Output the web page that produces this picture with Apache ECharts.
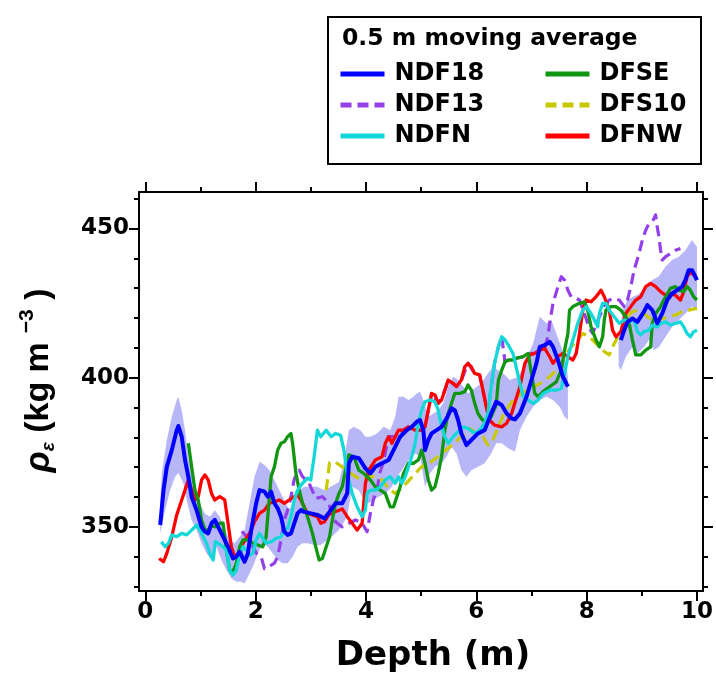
<!DOCTYPE html>
<html>
<head>
<meta charset="utf-8">
<script src="https://cdn.jsdelivr.net/npm/echarts@6/dist/echarts.min.js"></script>
<style>html,body{margin:0;padding:0;background:#fff;}#chart{width:716px;height:682px;}</style>
</head>
<body>
<div id="chart"></div>
<script>
// ---------------- data (depth in m, density in kg m^-3) ----------------
const xMajorTicks = [0, 2, 4, 6, 8, 10];
const xMinorTicks = [1, 3, 5, 7, 9];
const yMajorTicks = [350, 400, 450];
const yMinorTicks = [330, 340, 360, 370, 380, 390, 410, 420, 430, 440, 460];

const ndf18DepthA = [0.27,0.33,0.39,0.48,0.57,0.60,0.66,0.72,0.78,0.84,0.93,1.02,1.08,1.14,1.20,1.26,1.32,1.41,1.50,1.59,1.65,1.71,1.80,1.86,1.92,2.01,2.07,2.16,2.22,2.28,2.34,2.40,2.46,2.52,2.58,2.64,2.70,2.76,2.82,2.88,3.00,3.12,3.25,3.34,3.45,3.57,3.66,3.69,3.75,3.87,3.99,4.08,4.17,4.29,4.41,4.50,4.62,4.74,4.83,4.92,4.98,5.04,5.07,5.13,5.19,5.28,5.37,5.46,5.55,5.61,5.67,5.73,5.82,5.91,6.03,6.15,6.27,6.36,6.46,6.55,6.64,6.70,6.79,6.91,7.00,7.09,7.15,7.24,7.33,7.39,7.48,7.57,7.66];
const ndf18RhoA   = [350.6,362.3,370.1,375.7,382.4,383.8,380.2,372.4,366.8,360.1,355.6,350.0,348.4,347.8,351.2,352.3,350.0,346.7,343.3,339.4,340.0,341.7,338.3,341.1,348.9,357.9,362.3,361.8,360.1,361.8,357.9,356.2,353.4,348.4,347.3,347.8,351.2,354.5,355.6,355.0,354.5,354.0,352.8,355.0,357.9,357.9,361.2,371.3,373.5,373.0,369.6,367.9,370.1,371.3,372.4,375.7,380.2,382.4,383.5,385.2,385.8,382.4,375.7,379.1,381.3,382.4,383.5,386.3,389.7,389.1,385.8,381.3,377.4,379.1,381.3,382.4,388.0,391.9,390.8,388.0,386.3,386.0,388.0,393.6,399.2,404.8,410.3,410.9,412.0,410.3,405.9,400.3,397.0];
const ndf18DepthB = [8.62,8.68,8.74,8.83,8.92,9.04,9.10,9.19,9.28,9.37,9.46,9.55,9.64,9.73,9.79,9.85,9.91,9.97,10.0];
const ndf18RhoB   = [412.6,415.9,418.7,419.8,418.7,422.1,424.3,422.6,418.2,421.5,426.0,428.2,429.3,430.5,432.7,436.0,436.0,433.8,432.7];

const ndf13Depth = [1.75,1.82,1.90,2.02,2.10,2.16,2.25,2.34,2.40,2.46,2.52,2.58,2.64,2.70,2.79,2.85,2.97,3.09,3.21,3.33,3.39,3.48,3.57,3.69,3.81,3.93,4.02,4.08,4.14,4.20,4.25,4.32,4.41,4.53,4.68,4.77,4.89,5.01,5.07,5.13,5.19,5.31,5.43,5.49,5.64,5.73,5.85,5.97,6.06,6.12,6.21,6.27,6.33,6.40,6.46,6.52,6.58,6.67,6.73,6.85,6.94,7.06,7.15,7.24,7.30,7.33,7.39,7.48,7.54,7.60,7.66,7.72,7.81,7.87,7.99,8.05,8.11,8.23,8.32,8.41,8.50,8.59,8.68,8.74,8.80,8.86,8.95,9.01,9.07,9.13,9.20,9.25,9.28,9.31,9.34,9.37,9.43,9.52,9.61,9.70];
const ndf13Rho   = [348.5,347.0,345.0,341.0,340.0,336.0,336.8,337.8,340.0,345.6,352.3,355.6,360.0,366.0,369.0,366.8,364.6,359.5,360.1,357.9,352.8,351.2,350.0,351.2,352.3,351.2,348.4,354.5,359.5,362.3,368.0,372.0,380.2,380.2,382.4,383.5,382.4,382.4,383.5,389.1,394.7,391.4,395.8,399.2,397.0,399.2,404.8,401.4,400.9,395.8,388.0,396.9,404.8,410.3,413.7,405.3,405.9,405.9,406.5,407.0,408.1,408.1,409.2,409.8,414.0,418.2,424.9,430.5,433.8,432.7,429.3,427.1,426.5,426.0,419.8,416.5,414.8,420.4,424.0,426.0,426.5,426.0,423.8,426.0,430.5,436.0,441.6,446.1,449.4,451.7,452.5,454.5,450.5,447.2,442.7,439.4,440.5,441.6,442.7,443.3];

const ndfnDepth = [0.29,0.36,0.42,0.48,0.57,0.66,0.75,0.84,0.93,0.99,1.05,1.11,1.17,1.23,1.27,1.32,1.41,1.47,1.53,1.59,1.65,1.71,1.77,1.83,1.89,1.95,2.01,2.07,2.13,2.19,2.28,2.37,2.46,2.52,2.58,2.64,2.70,2.76,2.85,2.94,3.00,3.06,3.12,3.18,3.28,3.37,3.45,3.54,3.60,3.66,3.75,3.84,3.93,3.99,4.02,4.08,4.17,4.26,4.35,4.44,4.53,4.59,4.65,4.71,4.77,4.83,4.89,4.95,5.01,5.07,5.16,5.25,5.31,5.37,5.43,5.49,5.58,5.67,5.76,5.85,5.97,6.06,6.15,6.21,6.27,6.33,6.40,6.46,6.52,6.58,6.665,6.79,6.85,6.94,7.03,7.12,7.21,7.33,7.45,7.54,7.60,7.66,7.75,7.84,7.93,7.99,8.08,8.14,8.20,8.23,8.29,8.35,8.41,8.50,8.59,8.68,8.77,8.86,8.92,8.98,9.04,9.13,9.19,9.28,9.34,9.43,9.52,9.61,9.70,9.76,9.82,9.88,9.94,10.0];
const ndfnRho   = [345.0,343.3,344.5,347.3,346.7,347.8,347.3,348.9,350.6,348.9,346.7,344.5,341.1,338.9,345.0,344.5,343.3,342.2,335.5,333.8,335.5,340.6,343.3,342.2,340.6,341.1,345.6,347.8,346.1,344.5,345.0,346.1,346.7,348.9,349.5,353.4,359.0,362.3,364.6,366.3,365.7,373.5,382.4,380.2,382.4,380.2,381.3,380.7,375.7,367.9,361.2,356.7,353.4,355.6,361.2,362.3,362.3,363.4,365.7,366.8,364.6,366.8,364.6,366.8,370.1,373.5,378.0,384.7,389.1,391.9,392.5,391.9,389.1,383.5,380.2,378.0,380.2,381.9,383.5,383.0,381.3,382.4,384.7,388.0,396.9,404.8,410.3,413.7,412.6,410.9,408.1,398.1,393.6,392.5,391.4,392.5,394.7,395.8,395.8,396.4,401.4,407.0,412.6,418.2,422.6,423.8,421.5,419.3,417.0,421.5,424.9,424.9,422.6,420.4,418.2,419.3,418.7,419.3,415.4,414.3,415.4,415.9,417.6,417.0,418.2,418.7,417.6,418.2,418.7,417.0,414.8,413.7,415.4,415.9];

const dfseDepth = [0.78,0.84,0.90,0.96,1.02,1.08,1.14,1.20,1.26,1.35,1.41,1.47,1.53,1.59,1.65,1.71,1.77,1.86,1.95,2.04,2.13,2.19,2.24,2.28,2.34,2.40,2.46,2.52,2.58,2.64,2.67,2.73,2.79,2.85,2.94,3.03,3.09,3.15,3.21,3.28,3.34,3.39,3.45,3.51,3.57,3.63,3.69,3.78,3.87,3.96,4.08,4.17,4.26,4.35,4.44,4.50,4.56,4.62,4.68,4.77,4.86,4.95,5.01,5.07,5.13,5.19,5.25,5.31,5.37,5.43,5.49,5.55,5.61,5.70,5.79,5.85,5.91,5.97,6.03,6.09,6.18,6.27,6.36,6.40,6.46,6.52,6.58,6.67,6.73,6.85,6.94,7.00,7.06,7.12,7.21,7.33,7.45,7.54,7.60,7.66,7.69,7.75,7.87,7.96,8.02,8.08,8.17,8.23,8.29,8.32,8.35,8.44,8.53,8.62,8.71,8.77,8.83,8.89,8.98,9.07,9.16,9.19,9.25,9.34,9.43,9.52,9.61,9.67,9.76,9.82,9.88,9.94,10.0];
const dfseRho   = [378.0,370.1,362.3,359.0,352.3,349.0,349.0,350.6,350.0,351.2,351.2,342.2,335.5,335.0,337.8,343.3,345.6,345.6,344.5,343.9,343.3,346.7,357.9,366.8,370.1,375.7,378.0,378.5,380.2,381.3,378.0,368.0,362.3,357.9,353.4,347.8,343.3,338.9,339.4,343.3,346.7,352.3,357.9,361.2,363.4,369.0,374.1,373.5,369.0,367.9,365.7,363.4,362.3,361.2,356.7,356.7,360.1,363.4,367.9,371.3,371.3,372.4,375.7,371.3,365.7,362.3,363.4,367.9,373.5,382.4,388.0,391.4,394.7,394.7,395.3,397.5,395.8,391.4,388.0,386.3,384.7,386.9,390.8,399.2,402.5,405.3,405.9,405.9,406.5,407.0,408.1,401.4,394.7,393.6,395.3,397.0,398.6,402.5,409.2,414.8,422.6,423.8,424.9,425.4,422.6,417.0,412.6,410.3,413.7,419.3,422.6,423.8,423.8,422.6,420.4,418.2,412.6,407.6,407.6,409.2,410.3,418.2,421.5,423.8,427.1,429.9,430.5,429.3,428.8,430.5,429.3,427.1,426.0];

const dfs10Depth = [3.28,3.34,3.45,3.57,3.69,3.81,3.93,4.05,4.17,4.29,4.44,4.53,4.65,4.80,5.00,5.20,5.40,5.60,5.79,5.88,6.00,6.12,6.21,6.30,6.40,6.49,6.58,6.67,6.80,6.95,7.10,7.21,7.33,7.45,7.54,7.63,7.72,7.81,7.93,8.05,8.14,8.23,8.32,8.41,8.47,8.56,8.65,8.74,8.83,8.92,9.01,9.10,9.19,9.28,9.37,9.49,9.61,9.73,9.85,10.0];
const dfs10Rho   = [362.3,371.5,371.6,370.1,368.5,366.8,365.7,366.8,366.8,365.7,362.3,361.2,363.0,366.0,370.0,372.0,375.0,378.0,381.3,383.0,381.3,380.2,377.4,379.1,383.5,387.5,390.2,392.5,394.5,396.0,397.5,398.6,400.3,402.5,404.8,408.1,410.3,412.0,414.8,413.7,412.0,410.3,408.7,407.6,410.3,413.5,416.5,420.4,422.1,422.6,422.1,420.5,419.3,418.7,419.8,420.4,421.0,422.1,422.6,423.2];

const dfnwDepth = [0.25,0.33,0.39,0.48,0.57,0.66,0.72,0.78,0.84,0.90,0.96,1.02,1.08,1.14,1.20,1.26,1.35,1.44,1.50,1.56,1.62,1.68,1.77,1.83,1.92,1.98,2.07,2.16,2.25,2.34,2.43,2.52,2.61,2.70,2.76,2.82,2.88,2.94,3.03,3.12,3.18,3.25,3.34,3.43,3.57,3.66,3.75,3.84,3.93,3.99,4.05,4.17,4.29,4.35,4.41,4.47,4.53,4.59,4.68,4.77,4.89,5.01,5.07,5.13,5.19,5.25,5.31,5.37,5.43,5.49,5.58,5.64,5.73,5.79,5.85,5.91,5.97,6.06,6.12,6.18,6.24,6.33,6.46,6.55,6.64,6.79,6.88,6.97,7.06,7.15,7.24,7.33,7.39,7.48,7.57,7.66,7.75,7.81,7.87,7.93,7.99,8.08,8.17,8.26,8.32,8.41,8.47,8.53,8.62,8.71,8.80,8.89,8.98,9.07,9.16,9.25,9.34,9.43,9.52,9.61,9.70,9.76,9.82,9.88,9.94];
const dfnwRho   = [339.4,338.3,341.1,346.7,354.0,359.0,362.3,365.7,362.3,359.0,360.1,365.7,367.4,365.7,361.2,359.0,360.1,359.0,351.2,343.3,340.0,340.6,344.5,346.1,348.9,351.7,354.5,355.6,357.9,358.4,359.0,357.9,359.0,360.1,360.7,359.0,356.7,354.5,354.0,353.4,351.2,351.7,354.5,355.0,356.0,353.4,351.2,348.9,351.2,364.6,369.0,372.4,373.5,378.0,380.2,378.0,380.2,382.4,382.4,383.5,382.4,382.4,383.5,389.1,394.7,394.2,391.4,392.5,395.8,399.2,398.1,397.0,399.2,403.6,404.8,403.6,401.4,400.9,395.8,390.2,385.8,384.1,383.5,384.7,388.0,397.0,404.8,407.6,408.1,409.2,409.8,407.0,404.8,407.0,408.1,407.0,405.9,408.1,414.8,422.6,426.0,425.4,427.1,429.3,427.1,422.6,415.9,413.7,415.4,421.5,423.8,426.0,427.1,430.5,431.6,430.5,428.8,427.6,428.2,427.6,426.0,428.8,433.8,435.5,434.4];

// NDF18 spread (shaded envelope), two segments
const bandUpDepthA = [0.27,0.30,0.39,0.48,0.57,0.60,0.66,0.72,0.78,0.84,0.90,0.99,1.08,1.17,1.26,1.35,1.44,1.53,1.62,1.71,1.80,1.89,1.98,2.07,2.16,2.25,2.34,2.43,2.52,2.61,2.70,2.79,2.88,3.00,3.12,3.24,3.36,3.51,3.60,3.69,3.78,3.90,3.99,4.08,4.20,4.32,4.44,4.53,4.59,4.68,4.77,4.86,4.92,4.98,5.04,5.13,5.22,5.31,5.40,5.49,5.58,5.67,5.76,5.85,5.97,6.09,6.21,6.30,6.40,6.49,6.61,6.76,6.85,6.95,7.03,7.15,7.27,7.36,7.45,7.54,7.63,7.66];
const bandUpA      = [358.0,368.0,379.1,386.9,392.5,393.6,389.1,382.4,373.5,367.9,363.4,357.9,354.5,353.4,355.6,353.4,349.0,345.6,344.5,346.7,348.9,357.9,366.8,371.8,370.7,369.0,365.7,362.3,359.0,355.6,359.0,362.3,363.4,363.4,363.4,362.3,363.4,365.0,372.0,382.4,383.5,382.4,380.2,380.2,381.3,383.5,382.4,386.9,393.6,393.6,392.5,393.6,394.7,395.3,392.5,386.9,388.0,389.1,391.4,397.0,400.3,399.2,397.0,394.7,396.4,398.1,401.4,403.6,402.5,401.4,399.2,400.3,403.6,408.0,411.5,420.4,418.2,419.3,414.8,410.3,404.8,400.0];
const bandLoDepthA = [0.27,0.36,0.45,0.54,0.60,0.69,0.75,0.84,0.93,1.02,1.11,1.20,1.29,1.38,1.47,1.56,1.65,1.74,1.80,1.86,1.95,2.04,2.13,2.22,2.31,2.40,2.49,2.58,2.67,2.76,2.85,2.94,3.06,3.18,3.30,3.40,3.51,3.66,3.75,3.87,3.96,4.05,4.14,4.23,4.35,4.47,4.56,4.65,4.77,4.89,4.98,5.07,5.16,5.25,5.37,5.46,5.55,5.64,5.73,5.82,5.91,6.03,6.15,6.27,6.36,6.46,6.58,6.70,6.79,6.91,7.03,7.15,7.27,7.39,7.51,7.60,7.66];
const bandLoA      = [347.8,355.6,362.3,366.8,368.0,364.6,359.0,352.3,348.9,344.5,341.1,338.9,343.3,338.9,335.5,332.7,331.6,331.6,331.0,333.3,336.6,341.1,344.5,343.3,341.1,338.9,337.8,337.8,340.0,343.3,344.5,344.5,343.9,343.9,345.6,347.0,348.9,353.4,363.4,362.3,359.0,357.9,359.0,360.1,361.2,363.4,366.8,369.0,372.4,374.6,373.5,363.4,367.9,370.1,371.3,373.5,376.8,374.6,369.0,366.8,369.0,370.1,371.3,374.6,378.0,378.0,376.3,375.2,382.4,386.9,390.2,392.5,393.6,392.5,390.2,386.9,385.8];
const bandUpDepthB = [8.58,8.65,8.74,8.83,8.95,9.07,9.19,9.31,9.43,9.55,9.67,9.79,9.91,10.0];
const bandUpB      = [412.0,422.6,426.0,427.0,428.0,430.5,432.7,434.0,437.2,439.4,440.5,442.7,446.1,443.8];
const bandLoDepthB = [8.58,8.62,8.71,8.83,8.92,9.04,9.13,9.22,9.31,9.43,9.55,9.67,9.79,9.91,10.0];
const bandLoB      = [404.0,402.5,407.0,410.3,408.1,410.3,412.6,409.2,410.3,413.7,417.0,419.3,421.5,423.8,422.6];

// ---------------- chart ----------------
const X_MIN = -0.114, X_MAX = 10.108, Y_MIN = 328.5, Y_MAX = 462.2;
const zip = (xs, ys) => xs.map((x, i) => [x, ys[i]]);
const bandSegments = [
  {upD: bandUpDepthA, up: bandUpA, loD: bandLoDepthA, lo: bandLoA},
  {upD: bandUpDepthB, up: bandUpB, loD: bandLoDepthB, lo: bandLoB}
];

const FONT = 'DejaVu Sans';
const axisLineStyle = {color: '#000', width: 2};
function xAx(pos, ticks, len, showLine, labels, extra) {
  return Object.assign({
    type: 'value', position: pos, min: X_MIN, max: X_MAX, gridIndex: 0,
    splitLine: {show: false},
    axisLine: {show: showLine, onZero: false, lineStyle: axisLineStyle},
    axisTick: {show: true, inside: false, length: len, customValues: ticks, lineStyle: {color: '#000', width: 2}},
    axisLabel: labels ? {show: true, customValues: ticks, margin: 10, color: '#000', fontFamily: FONT, fontWeight: 'bold', fontSize: 23} : {show: false}
  }, extra || {});
}
function yAx(pos, ticks, len, showLine, labels, extra) {
  return Object.assign({
    type: 'value', position: pos, min: Y_MIN, max: Y_MAX, gridIndex: 0,
    splitLine: {show: false},
    axisLine: {show: showLine, onZero: false, lineStyle: axisLineStyle},
    axisTick: {show: true, inside: false, length: len, customValues: ticks, lineStyle: {color: '#000', width: 2}},
    axisLabel: labels ? {show: true, customValues: ticks, margin: 10, color: '#000', fontFamily: FONT, fontWeight: 'bold', fontSize: 23} : {show: false}
  }, extra || {});
}

function lineSeries(name, data, color, width, dashed, z) {
  return {
    name, type: 'line', data, xAxisIndex: 0, yAxisIndex: 0,
    symbol: 'none', showSymbol: false, smooth: false, connectNulls: false,
    lineStyle: {color, width, type: dashed ? [11, 6] : 'solid', cap: 'butt', join: 'round'},
    itemStyle: {color}, z, silent: true
  };
}

const ndf18Data = zip(ndf18DepthA, ndf18RhoA).concat([['-', '-']], zip(ndf18DepthB, ndf18RhoB));

const chart = echarts.init(document.getElementById('chart'), null, {renderer: 'canvas'});
const legendText = {color: '#000', fontFamily: FONT, fontWeight: 'bold', fontSize: 24, padding: [0, 0, 0, 5]};
const legendCommon = {orient: 'vertical', top: 57, itemWidth: 44, itemHeight: 14, itemGap: 7, textStyle: legendText, selectedMode: false,
  itemStyle: {opacity: 0}, lineStyle: {width: 5}};
const nameRich = {
  rho: {fontFamily: 'Liberation Sans', fontStyle: 'italic', fontWeight: 'bold', fontSize: 35, color: '#000', verticalAlign: 'middle', lineHeight: 44},
  sub: {fontFamily: 'Liberation Sans', fontStyle: 'italic', fontWeight: 'bold', fontSize: 19, color: '#000', verticalAlign: 'bottom', lineHeight: 44, padding: [0, 0, 3, 0]},
  t: {fontFamily: 'Liberation Sans', fontWeight: 'bold', fontSize: 34, color: '#000', verticalAlign: 'middle', lineHeight: 44},
  sup: {fontFamily: 'Liberation Sans', fontWeight: 'bold', fontSize: 21, color: '#000', verticalAlign: 'top', lineHeight: 44, padding: [0, 0, 0, 9]}
};
chart.setOption({
  animation: false,
  backgroundColor: '#fff',
  grid: {left: 139, right: 10, top: 192, bottom: 91, containLabel: false},
  xAxis: [
    xAx('bottom', xMajorTicks, 10, true, true, {
      name: 'Depth (m)', nameLocation: 'middle', nameGap: 48,
      nameTextStyle: {color: '#000', fontFamily: FONT, fontWeight: 'bold', fontSize: 34, padding: [0, 0, 0, 24]}
    }),
    xAx('bottom', xMinorTicks, 5, false, false),
    xAx('top', xMajorTicks, 10, true, false),
    xAx('top', xMinorTicks, 5, false, false)
  ],
  yAxis: [
    yAx('left', yMajorTicks, 10, true, true, {
      name: '{rho|ρ}{sub|ε}{t| (kg m}{sup|−3}{t| )}', nameLocation: 'middle', nameGap: 78,
      nameTextStyle: {color: '#000', fontFamily: 'Liberation Sans', fontWeight: 'bold', fontSize: 34, padding: [0, 0, 0, 22], rich: nameRich}
    }),
    yAx('left', yMinorTicks, 5, false, false),
    yAx('right', yMajorTicks, 10, true, false),
    yAx('right', yMinorTicks, 5, false, false)
  ],
  legend: [
    Object.assign({data: ['NDF18', 'NDF13', 'NDFN'], left: 333}, legendCommon),
    Object.assign({data: ['DFSE', 'DFS10', 'DFNW'], left: 538}, legendCommon)
  ],
  graphic: [
    {type: 'rect', left: 327, top: 16, shape: {width: 373, height: 147}, style: {fill: '#fff', stroke: '#000', lineWidth: 2}, z: -1},
    {type: 'text', left: 342, top: 27, style: {text: '0.5 m moving average', fill: '#000', font: 'bold 23.5px "DejaVu Sans"'}, z: 10}
  ],
  series: [
    {
      name: 'NDF18 spread', type: 'custom', coordinateSystem: 'cartesian2d', xAxisIndex: 0, yAxisIndex: 0,
      data: [[0], [1]], encode: {x: 0}, silent: true, z: 1, clip: true,
      renderItem: function (params, api) {
        const s = bandSegments[params.dataIndex];
        const pts = [];
        for (let i = 0; i < s.upD.length; i++) pts.push(api.coord([s.upD[i], s.up[i]]));
        for (let i = s.loD.length - 1; i >= 0; i--) pts.push(api.coord([s.loD[i], s.lo[i]]));
        return {type: 'polygon', shape: {points: pts}, style: {fill: 'rgba(105,105,238,0.48)', stroke: null}};
      }
    },
    lineSeries('NDF13', zip(ndf13Depth, ndf13Rho), '#9440ea', 3.2, true, 3),
    lineSeries('DFS10', zip(dfs10Depth, dfs10Rho), '#c9c900', 3.2, true, 3),
    lineSeries('DFNW', zip(dfnwDepth, dfnwRho), '#ff0000', 3.3, false, 4),
    lineSeries('DFSE', zip(dfseDepth, dfseRho), '#109610', 3.3, false, 4),
    lineSeries('NDFN', zip(ndfnDepth, ndfnRho), '#14d8d8', 3.3, false, 4),
    lineSeries('NDF18', ndf18Data, '#0000ff', 4, false, 5)
  ]
});
</script>
</body>
</html>
